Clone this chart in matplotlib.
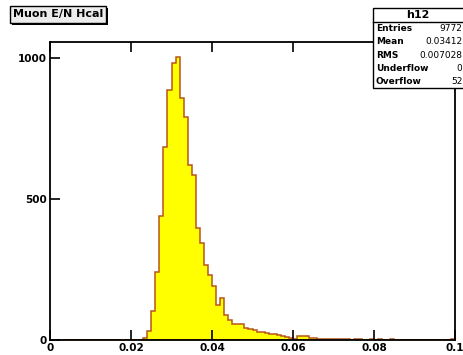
import matplotlib
matplotlib.use("Agg")
import matplotlib.pyplot as plt
import numpy as np
from matplotlib.patches import Rectangle

# ---- data ----
bin_lo = 0.0
bin_hi = 0.1
n_bins = 100
counts = [0]*23 + [
    8, 33, 104, 241, 440, 686, 887, 981, 1005, 860,     # 23-32
    790, 620, 585, 397, 343, 266, 230, 191, 124, 148,   # 33-42
    89, 71, 57, 57, 55, 42, 38, 35, 30, 28,             # 43-52
    26, 22, 20, 18, 14, 12, 7, 4, 14, 15,               # 53-62
    14, 8, 7, 5, 4, 3, 3, 2, 2, 3,                      # 63-72
    2, 1, 2, 3, 1, 0, 2, 1, 2, 1,                       # 73-82
    0, 2, 1, 0, 0, 1, 0, 0, 0, 1,                       # 83-92
    0, 0, 0, 0, 0, 0, 2                                 # 93-99
]
title = "Muon E/N Hcal"
hist_name = "h12"
stat_labels = ["Entries", "Mean", "RMS", "Underflow", "Overflow"]
stat_values = ["9772", "0.03412", "0.007028", "0", "52"]
xticks = [0, 0.02, 0.04, 0.06, 0.08, 0.1]
xtick_labels = ["0", "0.02", "0.04", "0.06", "0.08", "0.1"]
yticks = [0, 500, 1000]
ytick_labels = ["0", "500", "1000"]

FONT = ["Liberation Sans Narrow", "DejaVu Sans"]
W, H = 463, 355
fig = plt.figure(figsize=(W/100, H/100), dpi=100)
fig.patch.set_facecolor("white")

ax = fig.add_axes([50/W, 1-340/H, 405/W, 298/H])
edges = np.linspace(bin_lo, bin_hi, n_bins+1)
centers = 0.5*(edges[:-1]+edges[1:])
ax.hist(centers, bins=edges, weights=counts, histtype="stepfilled",
        facecolor="#ffff00", edgecolor="#b8561a", linewidth=1.1)
ax.set_xlim(bin_lo, bin_hi)
ax.set_ylim(0, 1057)
ax.set_xticks(xticks)
ax.set_xticklabels(xtick_labels)
ax.set_yticks(yticks)
ax.set_yticklabels(ytick_labels)
ax.tick_params(axis="both", direction="in", length=7, width=1.2,
               top=True, right=False, labelsize=7.5, pad=2)
for lab in ax.get_xticklabels() + ax.get_yticklabels():
    lab.set_family(FONT)
    lab.set_fontweight("bold")
for s in ax.spines.values():
    s.set_linewidth(1.3)

# title box
fig.patches.append(Rectangle((12/W, 1-25/H), 96/W, 17/H, transform=fig.transFigure,
                             facecolor="black", edgecolor="black", lw=0, zorder=4))
fig.patches.append(Rectangle((10/W, 1-23/H), 96/W, 17/H, transform=fig.transFigure,
                             facecolor="#ececec", edgecolor="black", lw=1.0, zorder=5))
fig.text(58/W, 1-14.5/H, title, ha="center", va="center", fontsize=8,
         fontweight="bold", family=FONT, zorder=6)

# stats box
bx0, by_top, bx1, by_bot = 373, 8, 466, 88
fig.patches.append(Rectangle((bx0/W, 1-by_bot/H), (bx1-bx0)/W, (by_bot-by_top)/H,
                             transform=fig.transFigure, facecolor="white",
                             edgecolor="black", lw=1.0, zorder=5))
fig.lines.append(plt.Line2D([bx0/W, bx1/W], [1-21.5/H, 1-21.5/H],
                            transform=fig.transFigure, color="black", lw=1.0, zorder=6))
fig.text(418/W, 1-14.5/H, hist_name, ha="center", va="center", fontsize=8,
         fontweight="bold", family=FONT, zorder=6)
row_y = [28.5, 42, 55.5, 68.5, 81]
for lbl, val, yy in zip(stat_labels, stat_values, row_y):
    fig.text(376/W, 1-yy/H, lbl, ha="left", va="center", fontsize=6.5,
             fontweight="bold", family=FONT, zorder=6)
    fig.text(462.5/W, 1-yy/H, val, ha="right", va="center", fontsize=6.5,
             family=FONT, zorder=6)

fig.savefig("out.png", dpi=100)
